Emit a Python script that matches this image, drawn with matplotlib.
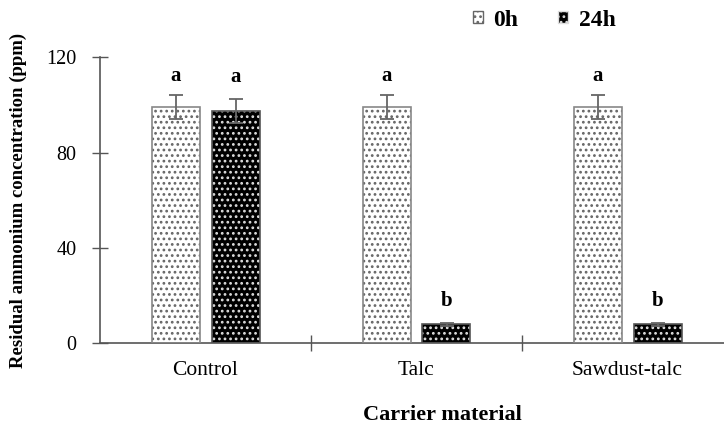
import matplotlib
matplotlib.use("Agg")
import matplotlib.pyplot as plt
from matplotlib.patches import Patch
import numpy as np

plt.rcParams['font.family'] = ['Liberation Serif', 'DejaVu Serif']
plt.rcParams['hatch.linewidth'] = 1.2

categories = ["Control", "Talc", "Sawdust-talc"]
series_names = ["0h", "24h"]
values_0h = [99.2, 99.2, 99.2]
values_24h = [97.6, 7.8, 7.9]
err_0h = [5.0, 5.0, 5.0]
err_24h = [5.0, 0.6, 0.6]
letters_0h = ["a", "a", "a"]
letters_24h = ["a", "b", "b"]
yticks = [0, 40, 80, 120]

fig = plt.figure(figsize=(7.24, 4.25), dpi=100)
ax = fig.add_axes([100/724, 82/425, 633/724, (343-57.3)/425])

x = np.arange(len(categories)) + 0.5
w = 48/211
off = 30/211

spine_col = '#555555'
# 0h bars
ax.bar(x - off, values_0h, w, color='white', edgecolor='#666666', hatch='...', linewidth=0, zorder=2)
ax.bar(x - off, values_0h, w, color='none', edgecolor='#888888', linewidth=1.2, zorder=3)
# 24h bars: black with white dots
ax.bar(x + off, values_24h, w, color='black', edgecolor='#dddddd', hatch='...', linewidth=0, zorder=2)
ax.bar(x + off, values_24h, w, color='none', edgecolor='#555555', linewidth=1.2, zorder=3)

ax.errorbar(x - off, values_0h, yerr=err_0h, fmt='none', ecolor='#666666', elinewidth=1.3, capsize=5, capthick=1.3, zorder=4)
ax.errorbar(x + off, values_24h, yerr=err_24h, fmt='none', ecolor='#666666', elinewidth=1.3, capsize=5, capthick=1.3, zorder=4)

for xi, v, e, l in zip(x - off, values_0h, err_0h, letters_0h):
    ax.text(xi, v + e + 6, l, ha='center', va='baseline', fontsize=15, fontweight='bold')
for xi, v, e, l in zip(x + off, values_24h, err_24h, letters_24h):
    ax.text(xi, v + e + 7, l, ha='center', va='baseline', fontsize=15, fontweight='bold')

ax.set_xlim(0, 3)
ax.set_ylim(0, 120)
ax.set_yticks(yticks)
ax.set_yticklabels([str(t) for t in yticks], fontsize=14.5)
ax.set_xticks([1, 2])
ax.set_xticklabels([])
ax.set_xticks(x, minor=True)
ax.set_xticklabels(categories, minor=True, fontsize=15.5)
ax.tick_params(axis='x', which='minor', length=0, pad=13)
ax.tick_params(axis='both', which='major', direction='inout', length=12, width=1, color=spine_col)
ax.tick_params(axis='y', pad=11)
for s in ['top', 'right']:
    ax.spines[s].set_visible(False)
for s in ['left', 'bottom']:
    ax.spines[s].set_color(spine_col)
    ax.spines[s].set_linewidth(1.2)

fig.text(18/724, 1 - 200/425, "Residual ammonium concentration (ppm)", rotation=90,
         ha='center', va='center', fontsize=13.5, fontweight='bold')
fig.text(363/724, 1 - 420/425, "Carrier material", ha='left', va='baseline', fontsize=16, fontweight='bold')

handles = [Patch(facecolor='white', edgecolor='#666666', hatch='...'),
           Patch(facecolor='black', edgecolor='#dddddd', hatch='...')]
leg = fig.legend(handles, series_names, loc='center left', bbox_to_anchor=(452/724, 1 - 20/425),
                 ncol=2, frameon=False, prop={'weight': 'bold', 'size': 17},
                 handlelength=0.4, handleheight=0.4, handletextpad=0.45, columnspacing=1.7)

fig.savefig("out.png", dpi=100)
